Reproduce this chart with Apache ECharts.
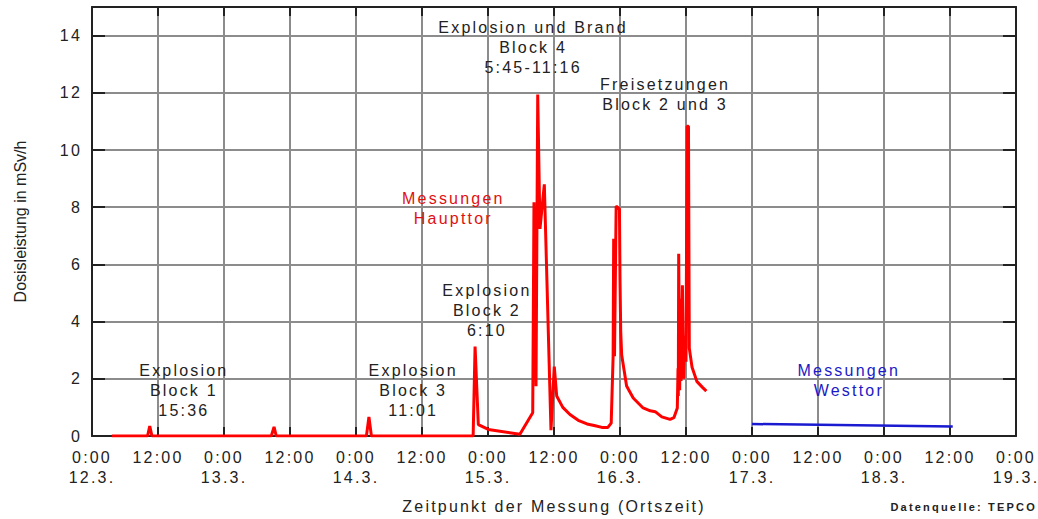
<!DOCTYPE html>
<html>
<head>
<meta charset="utf-8">
<script src="https://cdn.jsdelivr.net/npm/echarts@6/dist/echarts.min.js"></script>
<style>
  html, body { margin: 0; padding: 0; background: #fff; }
  #chart { width: 1038px; height: 519px; }
  #chart text { letter-spacing: 2.2px; }
  #chart text[style*="Arimo"] { letter-spacing: 0; }
</style>
</head>
<body>
<div id="chart"></div>
<script>
// Hours since 12.3. 0:00 (local time) and dose rate in mSv/h
const haupttorHours = [
  3.6, 10.1, 10.5, 10.9, 32.6, 33.1, 33.5, 49.9, 50.35, 50.8,
  69.3, 69.65, 70.24, 72.05, 77.8, 80.13, 80.36, 80.73, 81.04, 81.45,
  82.24, 83.45, 84.05, 84.49, 85.6, 86.9, 88.4, 90.0, 91.5, 92.7,
  93.8, 94.4, 94.75, 94.85, 95.0, 95.3, 95.9, 96.0, 96.13, 96.3,
  97.2, 98.4, 100.2, 101.5, 102.4, 103.6, 105.1, 105.8, 106.42, 106.55,
  106.6, 106.67, 106.85, 107.0, 107.1, 107.35, 107.55, 107.8, 108.0, 108.2,
  108.45, 108.6, 109.1, 110.0, 111.0, 111.7
];
const haupttorValues = [
  0, 0, 0.35, 0, 0, 0.32, 0, 0, 0.67, 0,
  0, 3.13, 0.4, 0.23, 0.06, 0.81, 8.17, 1.74, 11.94, 7.24,
  8.8, 0.2, 2.43, 1.4, 1.0, 0.75, 0.55, 0.42, 0.36, 0.3,
  0.3, 0.45, 2.79, 6.9, 2.79, 8.04, 7.94, 5.5, 3.66, 2.84,
  1.75, 1.33, 0.98, 0.88, 0.85, 0.67, 0.58, 0.64, 0.98, 2.37,
  1.4, 6.37, 1.6, 4.8, 1.92, 5.27, 2.0, 3.5, 2.6, 10.83,
  10.83, 3.07, 2.4, 1.9, 1.7, 1.57
];
const westtorHours = [120.0, 156.5];
const westtorValues = [0.42, 0.33];

const xTickLabels = [
  '0:00\n12.3.', '12:00', '0:00\n13.3.', '12:00', '0:00\n14.3.', '12:00',
  '0:00\n15.3.', '12:00', '0:00\n16.3.', '12:00', '0:00\n17.3.', '12:00',
  '0:00\n18.3.', '12:00', '0:00\n19.3.'
];
const yTickValues = [0, 2, 4, 6, 8, 10, 12, 14];

// annotations: position in data coordinates, text, colour
const annotationHours = [16.7, 58.4, 71.8, 80.2, 104.2, 65.7, 137.6];
const annotationValues = [1.58, 1.58, 4.4, 13.6, 11.95, 7.95, 1.94];
const annotationTexts = [
  'Explosion\nBlock 1\n15:36',
  'Explosion\nBlock 3\n11:01',
  'Explosion\nBlock 2\n6:10',
  'Explosion und Brand\nBlock 4\n5:45-11:16',
  'Freisetzungen\nBlock 2 und 3',
  'Messungen\nHaupttor',
  'Messungen\nWesttor'
];
const annotationColors = ['#222', '#222', '#222', '#222', '#222', '#e01010', '#1a1ac8'];

const FONT = 'Liberation Sans';
const gridColor = '#8c8c8c';
const axisColor = '#222';

const chart = echarts.init(document.getElementById('chart'), null, { renderer: 'svg' });

const red = haupttorHours.map((h, i) => [h, haupttorValues[i]]);
const blue = westtorHours.map((h, i) => [h, westtorValues[i]]);

const markData = annotationHours.map((h, i) => ({
  coord: [h, annotationValues[i]],
  symbolSize: 0,
  label: {
    show: true,
    position: 'inside',
    formatter: annotationTexts[i],
    color: annotationColors[i],
    fontFamily: FONT,
    fontSize: 16,
    lineHeight: 20,
    align: 'center',
    verticalAlign: 'middle'
  }
}));

chart.setOption({
  animation: false,
  backgroundColor: '#fff',
  grid: { left: 92, right: 22, top: 7, bottom: 81 },
  xAxis: [
    {
      type: 'value', min: 0, max: 168, interval: 12, position: 'bottom',
      name: 'Zeitpunkt der Messung (Ortszeit)',
      nameLocation: 'middle', nameGap: 62,
      nameTextStyle: { fontFamily: FONT, fontSize: 16, lineHeight: 16, color: '#222' },
      axisLine: { show: true, onZero: false, lineStyle: { color: axisColor, width: 2 } },
      axisTick: { show: true, inside: true, length: 9, lineStyle: { color: axisColor, width: 2 } },
      axisLabel: {
        fontFamily: FONT, fontSize: 16, lineHeight: 20.5, color: '#222', margin: 11,
        formatter: v => xTickLabels[Math.round(v / 12)] || ''
      },
      splitLine: { show: true, lineStyle: { color: gridColor, width: 2 } }
    },
    {
      type: 'value', min: 0, max: 168, interval: 12, position: 'top',
      axisLine: { show: true, onZero: false, lineStyle: { color: axisColor, width: 2 } },
      axisTick: { show: true, inside: true, length: 9, lineStyle: { color: axisColor, width: 2 } },
      axisLabel: { show: false },
      splitLine: { show: false }
    }
  ],
  yAxis: [
    {
      type: 'value', min: 0, max: 15, interval: 2, position: 'left',
      name: 'Dosisleistung in mSv/h',
      nameLocation: 'middle', nameGap: 64,
      nameTextStyle: { fontFamily: FONT + ', Arimo', fontSize: 16, lineHeight: 16, color: '#222' },
      axisLine: { show: true, onZero: false, lineStyle: { color: axisColor, width: 2 } },
      axisTick: { show: true, inside: true, length: 13, lineStyle: { color: axisColor, width: 2 } },
      axisLabel: {
        fontFamily: FONT, fontSize: 16, color: '#222', margin: 10, showMaxLabel: false,
        formatter: v => (yTickValues.indexOf(v) >= 0 ? String(v) : '')
      },
      splitLine: { show: true, lineStyle: { color: gridColor, width: 2 } }
    },
    {
      type: 'value', min: 0, max: 15, interval: 2, position: 'right',
      axisLine: { show: true, onZero: false, lineStyle: { color: axisColor, width: 2 } },
      axisTick: { show: true, inside: true, length: 13, lineStyle: { color: axisColor, width: 2 } },
      axisLabel: { show: false },
      splitLine: { show: false }
    }
  ],
  series: [
    {
      name: 'Messungen Haupttor', type: 'line', data: red,
      xAxisIndex: 0, yAxisIndex: 0,
      showSymbol: false, symbol: 'none',
      lineStyle: { color: '#ff0000', width: 3 },
      z: 5,
      markPoint: { symbol: 'circle', symbolSize: 0, data: markData, silent: true }
    },
    {
      name: 'Messungen Westtor', type: 'line', data: blue,
      xAxisIndex: 0, yAxisIndex: 0,
      showSymbol: false, symbol: 'none',
      lineStyle: { color: '#1a1ad0', width: 2.5 },
      z: 5
    }
  ],
  graphic: [
    {
      type: 'text', x: 1037, y: 507,
      style: {
        text: 'Datenquelle: TEPCO', fill: '#222',
        font: 'bold 11px "Liberation Sans"',
        textAlign: 'right', textVerticalAlign: 'middle'
      }
    }
  ]
});
</script>
</body>
</html>
